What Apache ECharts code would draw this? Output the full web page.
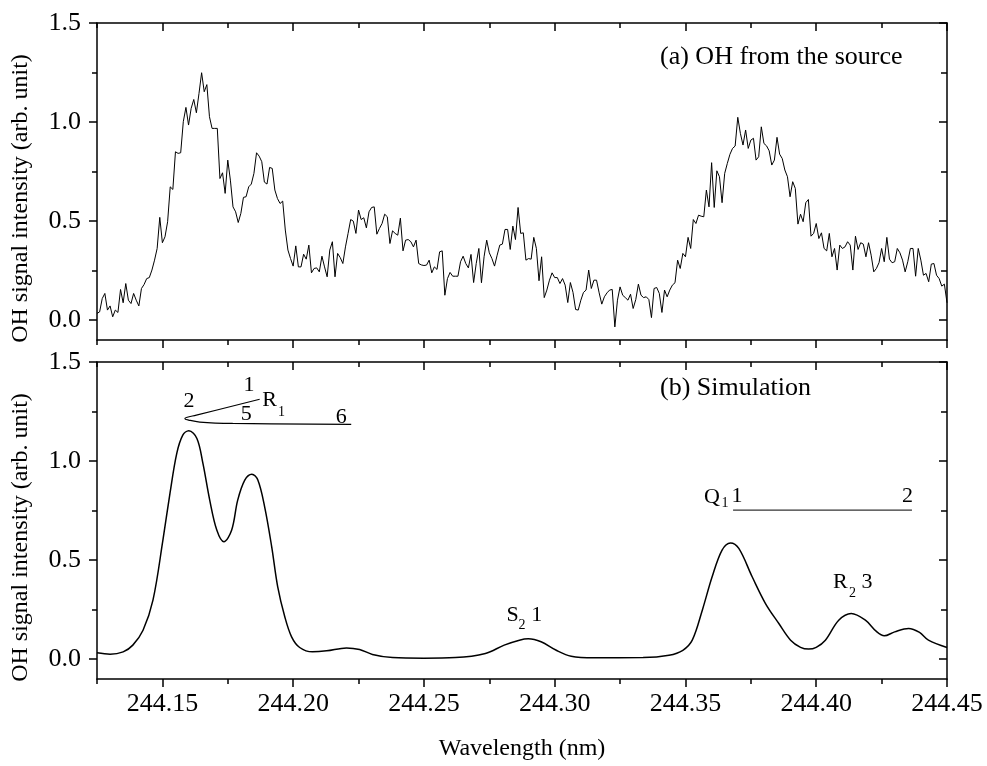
<!DOCTYPE html>
<html>
<head>
<meta charset="utf-8">
<script src="https://cdn.jsdelivr.net/npm/echarts@6/dist/echarts.min.js"></script>
<style>
html,body{margin:0;padding:0;background:#fff;}
#chart{width:987px;height:766px;}
</style>
</head>
<body>
<div id="chart"></div>
<script>
// ---------- DATA ----------
// (a) measured OH signal, sampled every 0.001 nm from 244.125 nm
const WL_START = 244.125;
const WL_STEP = 0.001;
const topSignal = [
0.034,0.042,0.109,0.135,0.051,0.072,0.017,0.051,0.039,0.155,
0.088,0.185,0.101,0.084,0.135,0.101,0.072,0.160,0.180,0.210,
0.215,0.253,0.303,0.362,0.519,0.391,0.421,0.497,0.673,0.660,
0.850,0.842,0.845,1.002,1.074,0.985,1.069,1.114,1.047,1.145,
1.249,1.153,1.189,1.027,0.968,0.968,0.968,0.715,0.744,0.640,
0.808,0.707,0.572,0.547,0.493,0.539,0.620,0.623,0.673,0.687,
0.741,0.845,0.828,0.800,0.697,0.687,0.771,
0.766,0.657,0.614,0.589,0.601,0.455,0.354,0.311,0.273,0.375,
0.269,0.269,0.333,0.308,0.379,0.239,0.261,0.264,0.244,0.323,
0.269,0.219,0.354,0.396,0.219,0.337,0.316,0.286,0.370,0.438,
0.508,0.500,0.438,0.556,0.508,0.517,0.466,0.547,0.569,0.572,
0.434,0.463,0.488,0.535,0.522,0.387,0.451,0.438,0.429,0.515,
0.350,0.404,0.407,0.396,0.370,0.404,0.286,0.279,0.276,0.278,
0.303,0.239,0.269,0.256,0.345,
0.350,0.126,0.210,0.241,0.222,0.222,0.222,0.295,0.323,0.286,
0.264,0.332,0.190,0.286,0.362,0.189,0.320,0.404,0.340,0.311,
0.273,0.328,0.379,0.384,0.458,0.458,0.357,0.475,0.407,0.569,
0.438,0.441,0.303,0.311,0.308,0.418,0.362,0.199,0.320,0.114,
0.152,0.202,0.239,0.215,0.215,0.185,0.210,0.177,0.089,0.190,
0.140,0.054,0.051,0.101,0.140,0.152,0.253,0.160,0.202,0.202,
0.138,0.081,0.118,0.138,0.152,
0.155,-0.034,0.101,0.168,0.126,0.114,0.101,0.131,0.059,0.104,
0.182,0.126,0.114,0.118,0.104,0.013,0.160,0.165,0.135,0.039,
0.152,0.118,0.152,0.177,0.189,0.303,0.261,0.337,0.320,0.418,
0.362,0.508,0.488,0.530,0.525,0.522,0.657,0.572,0.795,0.569,
0.754,0.724,0.593,0.741,0.791,0.837,0.867,0.879,1.024,0.943,
0.884,0.960,0.867,0.909,0.918,0.808,0.825,0.976,0.892,0.880,
0.855,0.783,0.808,0.923,0.838,
0.816,0.758,0.724,0.623,0.699,0.665,0.485,0.535,0.497,0.593,
0.609,0.424,0.438,0.488,0.412,0.441,0.362,0.350,0.438,0.320,
0.362,0.253,0.379,0.362,0.370,0.396,0.379,0.253,0.424,0.357,
0.391,0.384,0.320,0.391,0.328,0.244,0.261,0.290,0.362,0.295,
0.418,0.308,0.290,0.295,0.362,0.340,0.303,0.244,0.295,0.362,
0.362,0.222,0.362,0.303,0.227,0.236,0.194,0.283,0.286,0.227,
0.210,0.172,0.182,0.088
];

// (b) simulated spectrum
const simWavelength = [
244.125,244.130,244.135,244.1387,244.1426,244.1464,244.1502,244.1529,244.1555,244.1578,
244.1601,244.1632,244.1655,244.1681,244.1708,244.1735,244.1765,244.1788,244.1815,244.1842,
244.1865,244.1891,244.1918,244.1941,244.1968,244.1994,244.2025,244.2074,244.2128,244.2204,
244.2254,244.2303,244.2380,244.2500,244.2620,244.2735,244.2807,244.2865,244.2899,244.2948,
244.3006,244.3063,244.3151,244.3338,244.3437,244.3490,244.3526,244.3565,244.3602,244.3640,
244.3672,244.3704,244.3755,244.3806,244.3857,244.3902,244.3940,244.3971,244.4000,244.4035,
244.4086,244.4134,244.4188,244.4230,244.4260,244.4300,244.4353,244.4395,244.4429,244.4500
];
const simSignal = [
0.032,0.025,0.037,0.071,0.146,0.298,0.601,0.837,1.039,1.131,
1.153,1.114,0.988,0.803,0.652,0.593,0.652,0.803,0.904,0.934,
0.904,0.769,0.567,0.365,0.214,0.113,0.059,0.037,0.042,0.057,
0.049,0.024,0.008,0.005,0.008,0.029,0.071,0.096,0.103,0.088,
0.045,0.015,0.007,0.008,0.020,0.045,0.096,0.250,0.416,0.551,
0.587,0.559,0.416,0.281,0.180,0.096,0.060,0.051,0.060,0.096,
0.197,0.231,0.197,0.140,0.118,0.138,0.155,0.135,0.096,0.059
];

// line assignment markers in (b)
const r1BracketX = [244.1872,244.1630,244.1592,244.1586,244.1600,244.1643,244.1769,244.2222];
const r1BracketY = [1.312,1.232,1.220,1.214,1.207,1.197,1.190,1.185];
const q1LineX = [244.3682,244.4366];
const q1LineY = [0.7525,0.7525];

const annText = ['2','1','R','1','5','6','S','2','1','Q','1','1','2','R','2','3'];
const annX = [244.1602,244.1831,244.1910,244.1955,244.1821,244.2184,
              244.2839,244.2875,244.2931,
              244.3601,244.3651,244.3697,244.4349,
              244.4092,244.4139,244.4194];
const annY = [1.300,1.384,1.308,1.244,1.237,1.221,
              0.222,0.172,0.222,
              0.820,0.788,0.822,0.823,
              0.390,0.332,0.390];
const annIsSub = [false,false,false,true,false,false,
                  false,true,false,
                  false,true,false,false,
                  false,true,false];

// axes
const X_MIN = 244.125, X_MAX = 244.45;
const Y_MIN = -0.1, Y_MAX = 1.5;
const xMajorTicks = [244.15,244.20,244.25,244.30,244.35,244.40,244.45];
const xMinorTicks = [244.125,244.175,244.225,244.275,244.325,244.375,244.425];
const yMajorTicks = [0,0.5,1.0,1.5];
const yMinorTicks = [0.25,0.75,1.25];

const panelLabels = ['(a) OH from the source','(b) Simulation'];
const yTitle = 'OH signal intensity (arb. unit)';
const xTitle = 'Wavelength (nm)';

// ---------- CHART ----------
const FONT = '"Liberation Serif","Times New Roman",serif';
const BLACK = '#000';
const chart = echarts.init(document.getElementById('chart'), null, {renderer:'canvas'});

const grids = [
  {left:97, top:23, width:850, height:317},
  {left:97, top:362, width:850, height:317}
];

function tick(values, len, inside){
  return {show:true, inside:inside, length:len, customValues:values,
          lineStyle:{color:BLACK, width:1.5}};
}
const xAxes = [], yAxes = [];
function addAxes(g, showXLabels){
  const base = {type:'value', gridIndex:g, min:X_MIN, max:X_MAX, splitLine:{show:false}};
  xAxes.push(Object.assign({}, base, {
    position:'bottom',
    axisLine:{show:true, onZero:false, lineStyle:{color:BLACK, width:1.5}},
    axisTick:tick(xMajorTicks, 8, false),
    axisLabel:{show:showXLabels, customValues:xMajorTicks, margin:12,
      formatter:v=>v.toFixed(2), color:BLACK, fontFamily:FONT, fontSize:26},
    name: showXLabels ? xTitle : '', nameLocation:'middle', nameGap:58,
    nameTextStyle:{color:BLACK, fontFamily:FONT, fontSize:24}
  }));
  const mainX = xAxes.length - 1;
  xAxes.push(Object.assign({}, base, {position:'bottom',
    axisLine:{show:false, onZero:false}, axisTick:tick(xMinorTicks, 5, false), axisLabel:{show:false}}));
  xAxes.push(Object.assign({}, base, {position:'top',
    axisLine:{show:true, onZero:false, lineStyle:{color:BLACK, width:1.5}},
    axisTick:tick(xMajorTicks, 8, true), axisLabel:{show:false}}));
  xAxes.push(Object.assign({}, base, {position:'top',
    axisLine:{show:false, onZero:false}, axisTick:tick(xMinorTicks, 5, true), axisLabel:{show:false}}));

  const ybase = {type:'value', gridIndex:g, min:Y_MIN, max:Y_MAX, splitLine:{show:false}};
  yAxes.push(Object.assign({}, ybase, {position:'left',
    axisLine:{show:true, onZero:false, lineStyle:{color:BLACK, width:1.5}},
    axisTick:tick(yMajorTicks, 8, false),
    axisLabel:{show:true, customValues:yMajorTicks, margin:16,
      formatter:v=>v.toFixed(1), color:BLACK, fontFamily:FONT, fontSize:26},
    name:yTitle, nameLocation:'middle', nameGap:64, nameRotate:90,
    nameTextStyle:{color:BLACK, fontFamily:FONT, fontSize:24, padding:[0,34,0,0]}
  }));
  const mainY = yAxes.length - 1;
  yAxes.push(Object.assign({}, ybase, {position:'left',
    axisLine:{show:false, onZero:false}, axisTick:tick(yMinorTicks, 5, false), axisLabel:{show:false}}));
  yAxes.push(Object.assign({}, ybase, {position:'right',
    axisLine:{show:true, onZero:false, lineStyle:{color:BLACK, width:1.5}},
    axisTick:tick(yMajorTicks, 8, true), axisLabel:{show:false}}));
  yAxes.push(Object.assign({}, ybase, {position:'right',
    axisLine:{show:false, onZero:false}, axisTick:tick(yMinorTicks, 6, true), axisLabel:{show:false}}));
  return {x:mainX, y:mainY};
}
const A = addAxes(0, false);
const B = addAxes(1, true);

const topData = topSignal.map((v,i)=>[+(WL_START + i*WL_STEP).toFixed(3), v]);
const simData = simWavelength.map((x,i)=>[x, simSignal[i]]);
const r1Data = r1BracketX.map((x,i)=>[x, r1BracketY[i]]);
const q1Data = q1LineX.map((x,i)=>[x, q1LineY[i]]);
const annData = annText.map((t,i)=>({
  value:[annX[i], annY[i]],
  label:{formatter:t, fontSize: annIsSub[i] ? 14 : 22, color:BLACK}
}));

const option = {
  backgroundColor:'#fff',
  animation:false,
  title: [
    {text:panelLabels[0], left:655, top:39,
     textStyle:{color:BLACK, fontFamily:FONT, fontSize:26, fontWeight:'normal'}},
    {text:panelLabels[1], left:655, top:370,
     textStyle:{color:BLACK, fontFamily:FONT, fontSize:26, fontWeight:'normal'}}
  ],
  grid: grids,
  xAxis: xAxes,
  yAxis: yAxes,
  series: [
    {type:'line', xAxisIndex:A.x, yAxisIndex:A.y, data:topData, showSymbol:false,
     lineStyle:{color:BLACK, width:1}, silent:true},
    {type:'line', xAxisIndex:B.x, yAxisIndex:B.y, data:simData, showSymbol:false, smooth:0.35,
     lineStyle:{color:BLACK, width:1.5}, silent:true},
    {type:'line', xAxisIndex:B.x, yAxisIndex:B.y, data:r1Data, showSymbol:false, smooth:0.4,
     lineStyle:{color:BLACK, width:1.2}, silent:true},
    {type:'line', xAxisIndex:B.x, yAxisIndex:B.y, data:q1Data, showSymbol:false,
     lineStyle:{color:'#333', width:1.2}, silent:true},
    {type:'scatter', xAxisIndex:B.x, yAxisIndex:B.y, data:annData, symbolSize:0, silent:true,
     itemStyle:{opacity:1, color:BLACK},
     label:{show:true, position:[0,0], align:'center', verticalAlign:'middle',
            color:BLACK, fontFamily:FONT, opacity:1}}
  ]
};
chart.setOption(option);
</script>
</body>
</html>
